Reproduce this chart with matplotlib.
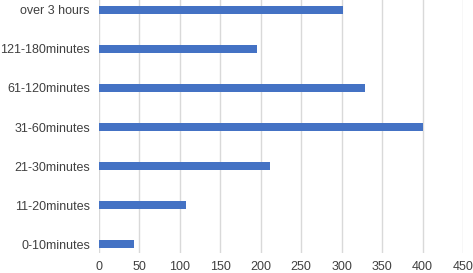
import matplotlib.pyplot as plt

# data
categories = ['0-10minutes', '11-20minutes', '21-30minutes', '31-60minutes',
              '61-120minutes', '121-180minutes', 'over 3 hours']
counts = [43, 108, 212, 400, 329, 195, 302]
xticks = [0, 50, 100, 150, 200, 250, 300, 350, 400, 450]

plt.rcParams['font.family'] = ['Liberation Sans', 'DejaVu Sans']

fig = plt.figure(figsize=(4.73, 2.73), dpi=100)
ax = fig.add_axes([99 / 473, 20 / 273, 364 / 473, 253 / 273])

ax.barh(range(len(categories)), counts, height=0.21, color='#4472C4', zorder=3)

ax.set_xlim(0, 450)
ax.set_ylim(-0.23, 6.256)
ax.set_xticks(xticks)
ax.set_yticks(range(len(categories)))
ax.set_yticklabels(categories)
ax.grid(axis='x', color='#d9d9d9', linewidth=1.0, zorder=0)
for s in ax.spines.values():
    s.set_visible(False)
ax.tick_params(length=0, colors='#404040', labelsize=9)
ax.tick_params(axis='x', pad=6)
ax.tick_params(axis='y', pad=6.5)

plt.savefig('out.png', dpi=100)
